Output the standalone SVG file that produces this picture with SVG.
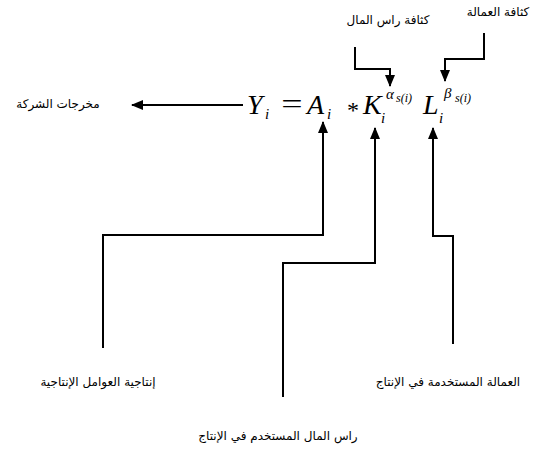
<svg xmlns="http://www.w3.org/2000/svg" width="537" height="455" viewBox="0 0 537 455">
<style>
.lbl{font-family:"DejaVu Sans",sans-serif;font-size:12px;fill:#000;text-anchor:middle}
.eq{font-family:"Liberation Serif",serif;fill:#000}
.it{font-style:italic}
.conn{fill:none;stroke:#000;stroke-width:2}
</style>
<defs>
<marker id="ah" viewBox="0 0 12 10" markerWidth="12" markerHeight="10" refX="11" refY="5" orient="auto" markerUnits="userSpaceOnUse">
<path d="M0,0 L12,5 L0,10 z" fill="#000"/>
</marker>
</defs>
<rect width="537" height="455" fill="#fff"/>
<g id="equation" class="eq">
<text x="247" y="114" font-size="28" class="it">Y</text>
<text x="265" y="119" font-size="15" class="it">i</text>
<text transform="translate(292,113) scale(1.35,1)" x="0" y="0" font-size="28" text-anchor="middle">=</text>
<text x="307" y="114" font-size="28" class="it">A</text>
<text x="327" y="119" font-size="15" class="it">i</text>
<text x="347" y="118" font-size="24">*</text>
<text x="363" y="114" font-size="28" class="it">K</text>
<text x="381" y="123" font-size="15" class="it">i</text>
<text x="386" y="99" font-size="15" class="it">α</text>
<text x="396" y="102" font-size="12" class="it">s(i)</text>
<text x="423" y="114" font-size="28" class="it">L</text>
<text x="439" y="123" font-size="15" class="it">i</text>
<text x="444" y="98" font-size="15" class="it">β</text>
<text x="455" y="102" font-size="12" class="it">s(i)</text>
</g>
<g id="n-output"><text class="lbl" x="58" y="108">مخرجات الشركة</text></g>
<g id="n-capital-density"><text class="lbl" x="388" y="24">كثافة راس المال</text></g>
<g id="n-labor-density"><text class="lbl" x="498" y="16">كثافة العمالة</text></g>
<g id="n-tfp"><text class="lbl" x="98" y="386">إنتاجية العوامل الإنتاجية</text></g>
<g id="n-capital"><text class="lbl" x="278" y="440">راس المال المستخدم في الإنتاج</text></g>
<g id="n-labor"><text class="lbl" x="448" y="386">العمالة المستخدمة في الإنتاج</text></g>
<g id="connectors" class="conn">
<path d="M243,105 H132" marker-end="url(#ah)"/>
<path d="M355,47 V69 H390 V86" marker-end="url(#ah)"/>
<path d="M484,33 V59 H445 V81" marker-end="url(#ah)"/>
<path d="M103,348 V235 H323 V122" marker-end="url(#ah)"/>
<path d="M283,397 V263 H375 V128" marker-end="url(#ah)"/>
<path d="M453,344 V236 H433 V128" marker-end="url(#ah)"/>
</g>
</svg>
